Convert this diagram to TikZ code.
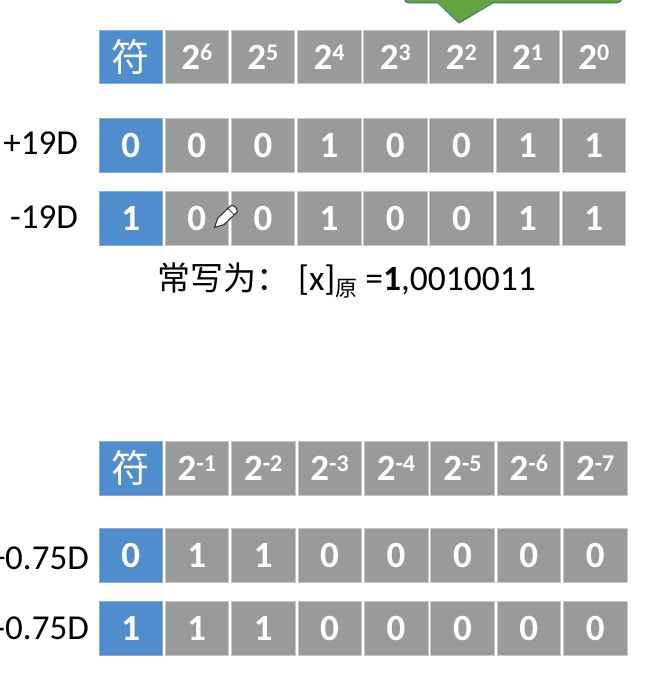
\documentclass[tikz,border=0pt]{standalone}
\usepackage{fontspec}
\setmainfont{Carlito}
\newfontfamily\cjk{Noto Sans CJK SC}
\definecolor{bitgray}{HTML}{9A9A9A}
\definecolor{signblue}{HTML}{4F8DCD}
\definecolor{calloutgreen}{HTML}{62A53F}
\definecolor{calloutedge}{HTML}{3F6F78}
\newcommand{\pw}[1]{2\raisebox{9.5pt}{\fontsize{24}{24}\selectfont #1}}
\tikzset{
  bitcell/.style={fill=bitgray, draw=black!22, line width=0.5pt, text=white, inner sep=0pt,
    minimum width=63.5pt, minimum height=53.5pt, font=\bfseries\fontsize{37}{37}\selectfont},
  signcell/.style={bitcell, fill=signblue, draw=signblue!70},
  signchar/.style={font=\mdseries\fontsize{38}{38}\selectfont},
  rowlabel/.style={anchor=east, inner sep=0pt, font=\fontsize{35}{35}\selectfont}
}
\begin{document}
\begin{tikzpicture}[x=1pt,y=-1pt]
  \useasboundingbox (0,0) rectangle (650,698);
  \clip (0,0) rectangle (650,698);
  % Balao verde cortado no topo
  \draw[fill=calloutgreen, draw=calloutedge, line width=1pt, rounded corners=5pt]
    (404,-20) -- (404,3) -- (622,3) -- (622,-20);
  \fill[calloutgreen] (438,2) -- (459,23) -- (493,2) -- cycle;
  \draw[calloutedge, line width=1pt] (438,3) -- (459,23) -- (493,3);
  % Inteiros
  \node at (130.7,57) (s1) [signcell, signchar] {\cjk 符};
  \foreach \i/\e in {0/6,1/5,2/4,3/3,4/2,5/1,6/0}
    \node at ({196.8+66.15*\i},57) (h\i) [bitcell] {\pw{\e}};
  \node at (130.7,145) (s2) [signcell] {0};
  \foreach \i/\b in {0/0,1/0,2/1,3/0,4/0,5/1,6/1}
    \node at ({196.8+66.15*\i},145) (p\i) [bitcell] {\b};
  \node at (130.7,218) (s3) [signcell] {1};
  \foreach \i/\b in {0/0,1/0,2/1,3/0,4/0,5/1,6/1}
    \node at ({196.8+66.15*\i},218) (n\i) [bitcell] {\b};
  \node at (78,143) (lp) [rowlabel] {+19D};
  \node at (78,217) (ln) [rowlabel] {-19D};
  \node at (157,290) (cap) [anchor=base west, inner sep=0pt, font=\fontsize{35.5}{35.5}\selectfont]
    {{\fontsize{33}{33}\selectfont\cjk 常写为：}\hspace{9pt}[x]\raisebox{-6pt}{\fontsize{22}{22}\selectfont\cjk 原}\hspace{8pt}=\textbf{1},0010011};
  % Lapis
  \begin{scope}[shift={(214.5,227.5)}, x={(0.72pt,0.69pt)}, y={(0.69pt,-0.72pt)}]
    \draw[fill=white, draw=black!85, line width=1pt, line join=round]
      (0,0) -- (9,-4.5) -- (27,-4.5) to[bend left=60] (27,4.5) -- (9,4.5) -- cycle;
    \draw[black!85, line width=0.7pt] (23,-4.5) -- (23,4.5);
  \end{scope}
  % Fracionarios
  \node at (130.7,468) (s4) [signcell, signchar] {\cjk 符};
  \foreach \i/\e in {0/-1,1/-2,2/-3,3/-4,4/-5,5/-6,6/-7}
    \node at ({196.8+66.4*\i},468) (f\i) [bitcell] {\pw{\e}};
  \node at (130.7,555) (s5) [signcell] {0};
  \foreach \i/\b in {0/1,1/1,2/0,3/0,4/0,5/0,6/0}
    \node at ({196.8+66.4*\i},555) (q\i) [bitcell] {\b};
  \node at (130.7,628) (s6) [signcell] {1};
  \foreach \i/\b in {0/1,1/1,2/0,3/0,4/0,5/0,6/0}
    \node at ({196.8+66.4*\i},628) (m\i) [bitcell] {\b};
  \node at (89,558) (lq) [rowlabel] {+0.75D};
  \node at (89,628) (lm) [rowlabel] {-0.75D};
\end{tikzpicture}
\end{document}
